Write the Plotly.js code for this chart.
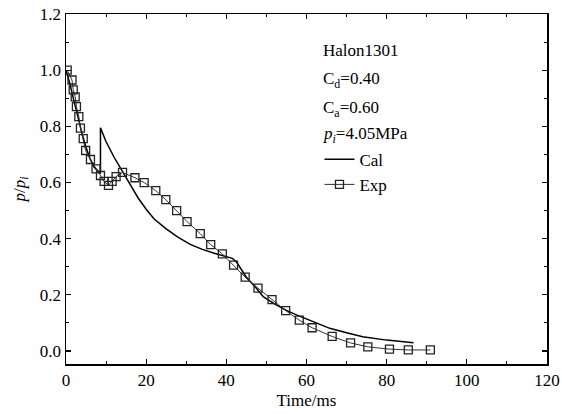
<!DOCTYPE html>
<html>
<head>
<meta charset="utf-8">
<script src="https://cdn.plot.ly/plotly-3.0.1.min.js"></script>
<style>html,body{margin:0;padding:0;background:#fff;}#chart{width:562px;height:414px;}</style>
</head>
<body>
<div id="chart"></div>
<script>
// Calculated curve (Cal)
var calTime = [0, 1, 2, 3, 4, 5, 6, 7, 8.6, 8.6, 10, 12, 14, 16, 18, 20, 22, 25, 28, 31, 34, 37, 40, 41.5, 42.5, 44, 45, 47.5, 49.2, 52, 55, 57.5, 61, 65.8, 70, 74, 80, 86.7];
var calP    = [1.0, 0.95, 0.89, 0.83, 0.775, 0.725, 0.685, 0.655, 0.632, 0.795, 0.745, 0.69, 0.64, 0.59, 0.545, 0.505, 0.47, 0.435, 0.405, 0.38, 0.362, 0.348, 0.336, 0.33, 0.318, 0.285, 0.263, 0.224, 0.194, 0.168, 0.145, 0.129, 0.108, 0.081, 0.065, 0.051, 0.039, 0.030];
// Experimental data (Exp)
var expTime = [0.3, 1.5, 1.8, 2.3, 2.6, 3.2, 3.6, 4.3, 4.9, 6.1, 7.5, 8.6, 9.5, 10.6, 11.5, 12.5, 14.1, 17.2, 19.5, 22.4, 24.9, 27.6, 30.2, 33.5, 36.1, 39.0, 41.8, 44.7, 47.9, 51.4, 54.8, 58.2, 61.4, 66.4, 71.0, 75.3, 80.7, 85.4, 90.9];
var expP    = [1.0, 0.965, 0.93, 0.905, 0.87, 0.835, 0.794, 0.756, 0.714, 0.682, 0.649, 0.625, 0.604, 0.59, 0.604, 0.621, 0.636, 0.617, 0.6, 0.571, 0.539, 0.5, 0.461, 0.418, 0.379, 0.346, 0.306, 0.263, 0.224, 0.183, 0.144, 0.11, 0.083, 0.052, 0.029, 0.015, 0.007, 0.004, 0.004];
var xTicks = [0, 20, 40, 60, 80, 100, 120];
var yTicks = [0.0, 0.2, 0.4, 0.6, 0.8, 1.0, 1.2];

var font = 'Liberation Serif, Times New Roman, serif';
var FS = 17;
var traces = [
  {x: calTime, y: calP, mode: 'lines', name: 'Cal', line: {color: '#000', width: 1.5}},
  {x: expTime, y: expP, mode: 'lines+markers', name: 'Exp',
   line: {color: '#333', width: 1},
   marker: {symbol: 'square-open', size: 8, color: '#222', line: {width: 1.3}}}
];
var axisCommon = {
  showline: true, linecolor: '#000', linewidth: 1.5, mirror: 'ticks',
  ticks: 'inside', ticklen: 5, tickwidth: 1.2, tickcolor: '#000',
  showgrid: false, zeroline: false,
  tickfont: {family: font, size: FS, color: '#000'}
};
var layout = {
  width: 562, height: 414,
  margin: {l: 66, r: 14.5, t: 14, b: 50},
  paper_bgcolor: '#fff', plot_bgcolor: '#fff',
  font: {family: font, color: '#000'},
  showlegend: true,
  legend: {x: 0.527, y: 0.635, xanchor: 'left', yanchor: 'top', bgcolor: 'rgba(0,0,0,0)',
           font: {family: font, size: FS, color: '#000'}, tracegroupgap: 0, itemwidth: 30},
  xaxis: Object.assign({}, axisCommon, {
    range: [0, 120], tickvals: xTicks, ticktext: xTicks.map(String),
    minor: {dtick: 10, tick0: 0, ticks: 'inside', ticklen: 3, tickcolor: '#000', tickwidth: 1},
    title: {text: 'Time/ms', font: {family: font, size: FS, color: '#000'}, standoff: 5}
  }),
  yaxis: Object.assign({}, axisCommon, {
    range: [-0.046, 1.2], tickvals: yTicks, ticktext: yTicks.map(function(v){return v.toFixed(1);}),
    minor: {dtick: 0.1, tick0: 0, ticks: 'inside', ticklen: 3, tickcolor: '#000', tickwidth: 1},
    title: {text: '<i>p</i>/<i>p</i><sub><i>i</i></sub>', font: {family: font, size: FS, color: '#000'}, standoff: 10}
  }),
  annotations: [
    {text: 'Halon1301', x: 0.53, y: 0.897},
    {text: 'C<sub>d</sub>=0.40', x: 0.53, y: 0.811},
    {text: 'C<sub>a</sub>=0.60', x: 0.53, y: 0.729},
    {text: '<i>p</i><sub><i>i</i></sub>=4.05MPa', x: 0.53, y: 0.654}
  ].map(function(a){
    return Object.assign({xref: 'paper', yref: 'paper', xanchor: 'left', yanchor: 'middle',
      showarrow: false, font: {family: font, size: FS, color: '#000'}}, a);
  })
};
Plotly.newPlot('chart', traces, layout, {displayModeBar: false, staticPlot: true});
</script>
</body>
</html>
